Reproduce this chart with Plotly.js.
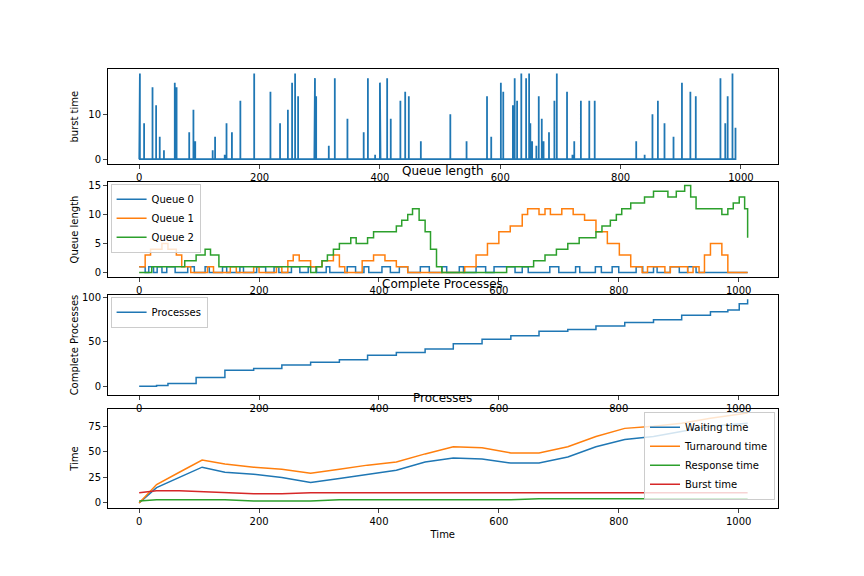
<!DOCTYPE html>
<html><head><meta charset="utf-8">
<script src="https://cdn.plot.ly/plotly-3.0.1.min.js"></script>
<style>body{margin:0}</style></head>
<body><div id="app" style="width:864px;height:576px"></div>
<script>
// burst spikes: time and burst size
const burstX = [0,1,8,22,28,34,41,59,62,83,90,93,122,126,142,145,154,168,191,218,234,247,254,259,264,291,292,294,315,325,346,373,380,392,400,401,412,418,434,442,448,468,517,544,578,585,601,605,621,624,628,635,643,648,650,653,660,664,669,672,681,690,694,711,720,723,734,748,757,826,840,853,862,873,888,902,916,925,966,974,978,986,991]
const burstH = [10,19,8,16,12,5,2,17,16,6,11,4,2,5,1,8,6,13,19,15,8,11,17,19,14,6,18,14,3,18,9,6,18,1,17,7,18,9,13,15,14,4,10,4,14,5,17,15,12,18,13,19,18,19,8,4,3,14,9,4,6,13,19,15,1,4,13,13,13,4,1,10,13,8,5,17,15,14,18,8,14,19,7]

// queue 0 pulses (value 1 between start and end)
const q0Start = [0,16,30,46,81,110,139,168,196,225,254,282,312,347,375,405,434,469,505,534,562,592,639,685,728,761,789,829,858,886,915]
const q0End   = [10,24,38,60,92,117,146,174,211,233,268,296,318,361,383,419,448,484,513,541,578,627,649,700,735,771,800,840,864,901,929]

const q1X = [0,10,19,38,48,62,71,86,114,124,152,162,191,200,229,238,248,257,267,286,305,324,334,343,372,391,410,429,448,534,543,562,581,600,619,639,648,667,677,686,705,724,743,762,781,801,820,839,848,877,886,915,924,934,943,953,962,972,982,1015]
const q1Y = [1,3,4,5,4,3,1,0,1,0,1,0,1,0,1,0,2,3,2,1,2,3,1,0,2,3,2,1,0,0,1,3,5,7,8,10,11,10,11,10,11,10,9,7,5,3,1,0,1,0,1,0,1,0,3,5,5,3,0,0]

const q2X = [0,21,76,95,110,119,133,286,295,305,314,324,334,353,362,381,391,419,429,438,448,456,467,477,486,496,505,548,613,658,677,696,715,734,762,772,786,796,805,820,843,858,882,896,910,920,929,972,982,991,1001,1010,1015]
const q2Y = [0,1,2,3,4,3,1,0,1,2,3,4,5,6,5,6,7,7,8,9,10,11,9,7,4,1,0,0,1,2,3,4,5,6,7,8,9,10,11,12,13,14,13,14,15,13,11,10,11,12,13,11,6,1]

const cpX = [0,29,48,95,143,191,238,286,334,381,429,477,524,572,620,667,715,762,810,858,905,953,982,1001,1015]
const cpY = [0,1,3,10,18,20,24,27,30,35,38,42,48,53,57,62,64,68,72,75,80,84,86,93,98]

const tX = [0,29,67,105,143,191,238,286,334,381,429,477,524,572,620,667,715,762,810,858,905,953,1015]
const waitY = [0,15,25,35,30,28,25,20,24,28,32,40,44,43,39,39,45,55,62,65,70,75,78]
const turnY = [0,18,30,42,38,35,33,29,33,37,40,48,55,54,49,49,55,65,73,75,78,83,88]
const respY = [2,3,3,3,3,2,2,2,3,3,3,3,3,3,3,4,4,4,4,4,4,4,4]
const burstY = [10,12,12,11,10,9,9,10,10,10,10,10,10,10,10,10,10,10,10,10,10,10,10]

const C = ['#1f77b4','#ff7f0e','#2ca02c','#d62728']

const bx = [], by = []
burstX.forEach((x, i) => { bx.push(x, x, x); by.push(0, burstH[i], 0) })
const q0x = [], q0y = []
q0Start.forEach((s, i) => { q0x.push(s, q0End[i]); q0y.push(1, 0) })
q0x.push(1015); q0y.push(0)

const traces = [
  {x: bx, y: by, mode: 'lines', name: 'burst times', line: {color: C[0], width: 1.8}, xaxis: 'x', yaxis: 'y', legend: 'legend'},
  {x: q0x, y: q0y, mode: 'lines', name: 'Queue 0', line: {color: C[0], width: 1.5, shape: 'hv'}, xaxis: 'x2', yaxis: 'y2', legend: 'legend2'},
  {x: q1X, y: q1Y, mode: 'lines', name: 'Queue 1', line: {color: C[1], width: 1.5, shape: 'hv'}, xaxis: 'x2', yaxis: 'y2', legend: 'legend2'},
  {x: q2X, y: q2Y, mode: 'lines', name: 'Queue 2', line: {color: C[2], width: 1.5, shape: 'hv'}, xaxis: 'x2', yaxis: 'y2', legend: 'legend2'},
  {x: cpX, y: cpY, mode: 'lines', name: 'Processes', line: {color: C[0], width: 1.5, shape: 'hv'}, xaxis: 'x3', yaxis: 'y3', legend: 'legend3'},
  {x: tX, y: waitY, mode: 'lines', name: 'Waiting time', line: {color: C[0], width: 1.5}, xaxis: 'x4', yaxis: 'y4', legend: 'legend4'},
  {x: tX, y: turnY, mode: 'lines', name: 'Turnaround time', line: {color: C[1], width: 1.5}, xaxis: 'x4', yaxis: 'y4', legend: 'legend4'},
  {x: tX, y: respY, mode: 'lines', name: 'Response time', line: {color: C[2], width: 1.5}, xaxis: 'x4', yaxis: 'y4', legend: 'legend4'},
  {x: tX, y: burstY, mode: 'lines', name: 'Burst time', line: {color: C[3], width: 1.5}, xaxis: 'x4', yaxis: 'y4', legend: 'legend4'}
]

const ax = (dom, extra) => Object.assign({domain: dom, showline: true, mirror: true, linecolor: '#000', linewidth: 1,
  ticks: 'outside', ticklen: 4, showgrid: false, zeroline: false, tickfont: {size: 10}}, extra)
const xr = [-52, 1065]
const leg = (x, y, xa, ya) => ({x, y, xanchor: xa, yanchor: ya, bgcolor: 'rgba(255,255,255,0.8)', bordercolor: '#ccc', borderwidth: 1, font: {size: 10}, tracegroupgap: 0})

const layout = {
  width: 864, height: 576, margin: {l: 0, r: 0, t: 0, b: 0},
  font: {family: 'DejaVu Sans', color: '#000'}, plot_bgcolor: '#fff', paper_bgcolor: '#fff',
  xaxis: ax([0.125, 0.9], {anchor: 'y', range: [-52, 1061], tickvals: [0,200,400,600,800,1000]}),
  yaxis: ax([0.715, 0.88], {anchor: 'x', range: [-1.1, 20], tickvals: [0, 10], title: {text: 'burst time', font: {size: 10}}}),
  xaxis2: ax([0.125, 0.9], {anchor: 'y2', range: xr, tickvals: [0,200,400,600,800,1000]}),
  yaxis2: ax([0.519, 0.684], {anchor: 'x2', range: [-0.8, 15.6], tickvals: [0,5,10,15], title: {text: 'Queue length', font: {size: 10}}}),
  xaxis3: ax([0.125, 0.9], {anchor: 'y3', range: xr, tickvals: [0,200,400,600,800,1000]}),
  yaxis3: ax([0.314, 0.488], {anchor: 'x3', range: [-10, 103], tickvals: [0,50,100], title: {text: 'Complete Processes', font: {size: 10}}}),
  xaxis4: ax([0.125, 0.9], {anchor: 'y4', range: xr, tickvals: [0,200,400,600,800,1000], title: {text: 'Time', font: {size: 10}, standoff: 4}}),
  yaxis4: ax([0.118, 0.29], {anchor: 'x4', range: [-5, 92], tickvals: [0,25,50,75], title: {text: 'Time', font: {size: 10}}}),
  legend: leg(0.897, 0.718, 'right', 'bottom'),
  legend2: leg(0.128, 0.681, 'left', 'top'),
  legend3: leg(0.128, 0.485, 'left', 'top'),
  legend4: leg(0.897, 0.285, 'right', 'top'),
  annotations: [
    {text: 'Queue length', x: 0.5125, y: 0.688, xref: 'paper', yref: 'paper', yanchor: 'bottom', showarrow: false, font: {size: 12}},
    {text: 'Complete Processes', x: 0.5125, y: 0.492, xref: 'paper', yref: 'paper', yanchor: 'bottom', showarrow: false, font: {size: 12}},
    {text: 'Processes', x: 0.5125, y: 0.294, xref: 'paper', yref: 'paper', yanchor: 'bottom', showarrow: false, font: {size: 12}}
  ]
}
Plotly.newPlot('app', traces, layout, {displayModeBar: false})
</script></body></html>
